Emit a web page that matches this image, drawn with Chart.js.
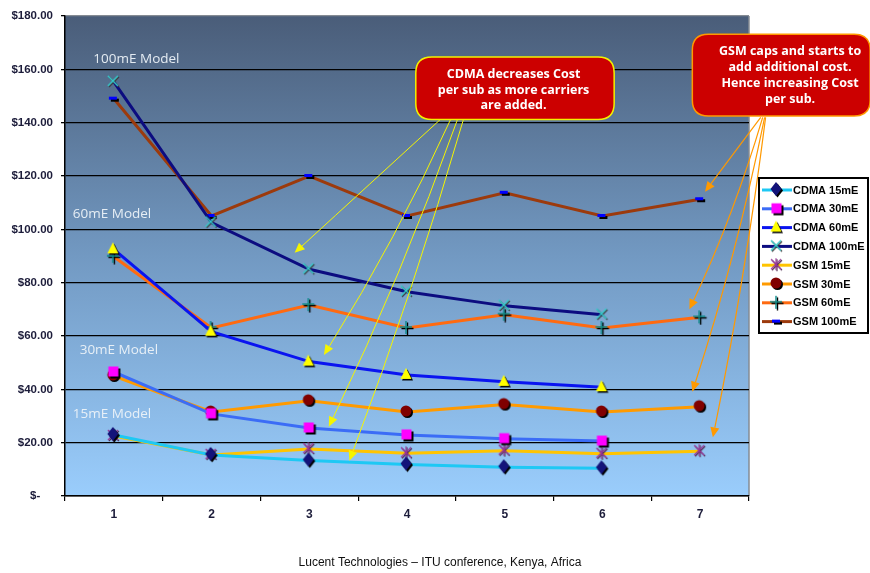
<!DOCTYPE html>
<html>
<head>
<meta charset="utf-8">
<title>Cost per subscriber: CDMA vs GSM</title>
<script src="https://cdn.jsdelivr.net/npm/chart.js@4.4.0/dist/chart.umd.min.js"></script>
<style>
  html, body { margin: 0; padding: 0; background: #fff; }
  #wrap { width: 870px; height: 573px; position: relative; }
</style>
</head>
<body>
<div id="wrap"><canvas id="chart" width="870" height="573"></canvas></div>
<script>
// Number of carriers added
const categories = ['1', '2', '3', '4', '5', '6', '7'];

// Cost per subscriber (USD), CDMA models (no 7th carrier)
const cdma15  = [22.9, 15.4, 13.3, 11.8, 10.8, 10.4, null];
const cdma30  = [46.5, 30.8, 25.5, 22.9, 21.5, 20.6, null];
const cdma60  = [92.5, 61.6, 50.4, 45.4, 42.8, 40.8, null];
const cdma100 = [155.3, 102.5, 85.0, 76.6, 71.3, 68.0, null];

// Cost per subscriber (USD), GSM models
const gsm15  = [22.5, 15.4, 17.6, 16.0, 17.0, 15.8, 16.8];
const gsm30  = [45.0, 31.5, 35.7, 31.5, 34.3, 31.5, 33.5];
const gsm60  = [89.7, 63.0, 71.6, 63.0, 68.0, 63.0, 67.0];
const gsm100 = [149.0, 105.0, 120.0, 105.0, 113.7, 105.0, 111.3];

// Value axis
const yMin = 0, yMax = 180, yStep = 20;

const seriesNames = ['CDMA 15mE', 'CDMA 30mE', 'CDMA 60mE', 'CDMA 100mE',
                     'GSM 15mE', 'GSM 30mE', 'GSM 60mE', 'GSM 100mE'];

const caption = 'Lucent Technologies \u2013 ITU conference, Kenya, Africa';

const AXIS_FONT = "Arial, 'Liberation Sans', sans-serif";
const LABEL_FONT = "'Open Sans', 'DejaVu Sans', sans-serif";

// ---------- marker glyphs (drawn with a small drop shadow) ----------
function glyph(w, h, draw) {
  const c = document.createElement('canvas');
  c.width = w; c.height = h;
  const g = c.getContext('2d');
  draw(g, w / 2, h / 2);
  return c;
}
function withShadow(g, dx, dy, shadowColor, fn, color) {
  g.save(); g.translate(dx, dy); fn(shadowColor); g.restore();
  fn(color);
}

const mkDiamond = glyph(18, 20, (g, cx, cy) => {
  const shape = col => { g.fillStyle = col; g.beginPath();
    g.moveTo(cx - 1, cy - 8); g.lineTo(cx + 4.5, cy - 1); g.lineTo(cx - 1, cy + 6); g.lineTo(cx - 6.5, cy - 1);
    g.closePath(); g.fill(); };
  withShadow(g, 1.5, 1.5, '#000', shape, '#13137a');
});
const mkSquare = glyph(16, 16, (g, cx, cy) => {
  const shape = col => { g.fillStyle = col; g.fillRect(cx - 5.5, cy - 5.5, 10, 10); };
  withShadow(g, 2, 2, '#000', shape, '#ff00ff');
});
const mkTriangle = glyph(16, 16, (g, cx, cy) => {
  const shape = col => { g.fillStyle = col; g.beginPath();
    g.moveTo(cx - 1, cy - 7); g.lineTo(cx + 4.5, cy + 4); g.lineTo(cx - 6.5, cy + 4);
    g.closePath(); g.fill(); };
  withShadow(g, 1.5, 1.5, '#000', shape, '#ffff00');
});
const mkCross = glyph(16, 16, (g, cx, cy) => {
  const shape = col => { g.strokeStyle = col; g.lineWidth = 1.4; g.beginPath();
    g.moveTo(cx - 6, cy - 6); g.lineTo(cx + 4, cy + 4);
    g.moveTo(cx + 4, cy - 6); g.lineTo(cx - 6, cy + 4); g.stroke(); };
  withShadow(g, 1, 1, '#3a3a3a', shape, '#33cccc');
});
const mkStar = glyph(16, 16, (g, cx, cy) => {
  const shape = col => { g.strokeStyle = col; g.lineWidth = 1.1; g.beginPath();
    g.moveTo(cx - 6, cy - 6); g.lineTo(cx + 4, cy + 4);
    g.moveTo(cx + 4, cy - 6); g.lineTo(cx - 6, cy + 4);
    g.moveTo(cx - 1, cy - 7); g.lineTo(cx - 1, cy + 5); g.stroke(); };
  withShadow(g, 1, 1, '#4a2a4a', shape, '#993399');
});
const mkCircle = glyph(16, 16, (g, cx, cy) => {
  const shape = col => { g.fillStyle = col; g.beginPath(); g.arc(cx - 1, cy - 1, 5.5, 0, Math.PI * 2); g.fill(); };
  withShadow(g, 1.5, 1.5, '#000', shape, '#800000');
});
const mkPlus = glyph(16, 16, (g, cx, cy) => {
  const shape = col => { g.strokeStyle = col; g.lineWidth = 1.4; g.beginPath();
    g.moveTo(cx - 7, cy - 1); g.lineTo(cx + 5, cy - 1);
    g.moveTo(cx - 1, cy - 7); g.lineTo(cx - 1, cy + 6); g.stroke(); };
  withShadow(g, 1.5, 1.5, '#000', shape, '#0b8a8a');
});
const mkDash = glyph(16, 10, (g, cx, cy) => {
  const shape = col => { g.fillStyle = col; g.fillRect(cx - 5, cy - 2, 8, 3); };
  withShadow(g, 2, 2, '#000', shape, '#0000ff');
});

function series(label, data, color, marker) {
  return {
    label, data,
    borderColor: color, backgroundColor: color,
    borderWidth: 3, tension: 0, fill: false,
    pointStyle: marker, pointRadius: 5, pointHoverRadius: 5
  };
}

const datasets = [
  series(seriesNames[0], cdma15,  '#1ec8f4', mkDiamond),
  series(seriesNames[1], cdma30,  '#3b6cf6', mkSquare),
  series(seriesNames[2], cdma60,  '#0a14f0', mkTriangle),
  series(seriesNames[3], cdma100, '#0c0c80', mkCross),
  series(seriesNames[4], gsm15,   '#ffc400', mkStar),
  series(seriesNames[5], gsm30,   '#ff9a00', mkCircle),
  series(seriesNames[6], gsm60,   '#ff6a10', mkPlus),
  series(seriesNames[7], gsm100,  '#9c3a0c', mkDash)
];

// ---------- annotation layout (category index / dollar value space) ----------
const modelLabels = [
  { text: '100mE Model', i: -0.21, v: 163.9 },
  { text: '60mE Model',  i: -0.42, v: 105.6 },
  { text: '30mE Model',  i: -0.35, v: 54.7 },
  { text: '15mE Model',  i: -0.42, v: 30.7 }
];

const callouts = [
  { lines: ['CDMA decreases Cost', 'per sub as more carriers', 'are added.'],
    i0: 3.09, i1: 5.12, v0: 164.6, v1: 141.2, textI: 4.09, lineGap: 15.5, shiftY: 2,
    border: '#f2f200',
    arrows: { color: '#f5f500', width: 1,
      list: [ { from: [3.35, 141.5], to: [1.85, 91.2], bend: 0 },
              { from: [3.45, 141.5], to: [2.15, 52.9], bend: -9 },
              { from: [3.52, 141.5], to: [2.20, 26.0], bend: -9 },
              { from: [3.58, 141.5], to: [2.41, 13.2], bend: -7 } ] } },
  { lines: ['GSM caps and starts to', 'add additional cost.', 'Hence increasing Cost', 'per sub.'],
    i0: 5.92, i1: 7.74, v0: 173.2, v1: 142.5, textI: 6.92, lineGap: 16, shiftY: 0,
    border: '#ff9900',
    arrows: { color: '#ff9900', width: 1.2,
      list: [ { from: [6.62, 142.0], to: [6.05, 114.1], bend: 0 },
              { from: [6.64, 142.0], to: [5.89, 70.0], bend: -8 },
              { from: [6.66, 142.0], to: [5.92, 39.1], bend: -8 },
              { from: [6.67, 142.0], to: [6.13, 22.0], bend: -6 } ] } }
];

function pt(chart, i, v) {
  return [chart.scales.x.getPixelForValue(i), chart.scales.y.getPixelForValue(v)];
}

function roundedRect(ctx, x, y, w, h, r) {
  ctx.beginPath();
  ctx.moveTo(x + r, y);
  ctx.lineTo(x + w - r, y); ctx.quadraticCurveTo(x + w, y, x + w, y + r);
  ctx.lineTo(x + w, y + h - r); ctx.quadraticCurveTo(x + w, y + h, x + w - r, y + h);
  ctx.lineTo(x + r, y + h); ctx.quadraticCurveTo(x, y + h, x, y + h - r);
  ctx.lineTo(x, y + r); ctx.quadraticCurveTo(x, y, x + r, y);
  ctx.closePath();
}

function drawArrow(ctx, p0, p1, bend, color, width) {
  const [x0, y0] = p0, [x1, y1] = p1;
  const dx = x1 - x0, dy = y1 - y0, len = Math.hypot(dx, dy);
  const nx = -dy / len, ny = dx / len;
  const cx = (x0 + x1) / 2 + nx * bend, cy = (y0 + y1) / 2 + ny * bend;
  const ex = x1 - cx, ey = y1 - cy, el = Math.hypot(ex, ey);
  const ux = ex / el, uy = ey / el;
  const head = 10, half = 4.5;
  const bx = x1 - ux * head, by = y1 - uy * head;
  ctx.save();
  ctx.strokeStyle = color; ctx.fillStyle = color; ctx.lineWidth = width;
  ctx.beginPath(); ctx.moveTo(x0, y0); ctx.quadraticCurveTo(cx, cy, bx, by); ctx.stroke();
  ctx.beginPath(); ctx.moveTo(x1, y1);
  ctx.lineTo(bx - uy * half, by + ux * half);
  ctx.lineTo(bx + uy * half, by - ux * half);
  ctx.closePath(); ctx.fill();
  ctx.restore();
}

// Plot background: vertical gradient plus grey frame on the right
const plotBackground = {
  id: 'plotBackground',
  beforeDraw(chart) {
    const { ctx, chartArea: a } = chart;
    ctx.save();
    ctx.fillStyle = '#ffffff';
    ctx.fillRect(0, 0, chart.width, chart.height);
    const grad = ctx.createLinearGradient(0, a.top, 0, a.bottom);
    grad.addColorStop(0, '#4a5d79');
    grad.addColorStop(0.5, '#7299c2');
    grad.addColorStop(1, '#9acdfc');
    ctx.fillStyle = grad;
    ctx.fillRect(a.left, a.top, a.right - a.left, a.bottom - a.top);
    ctx.strokeStyle = '#858b93'; ctx.lineWidth = 1.5;
    ctx.beginPath(); ctx.moveTo(a.right, a.top); ctx.lineTo(a.right, a.bottom); ctx.stroke();
    ctx.restore();
  }
};

// Model labels, callouts, arrows, legend and footer
const overlays = {
  id: 'overlays',
  beforeDatasetsDraw(chart) {
    const { ctx } = chart;
    ctx.save();
    ctx.font = "13.5px " + LABEL_FONT;
    ctx.fillStyle = 'rgba(236,242,248,0.95)';
    ctx.textAlign = 'left'; ctx.textBaseline = 'middle';
    modelLabels.forEach(m => {
      const [x, y] = pt(chart, m.i, m.v);
      ctx.fillText(m.text, x, y);
    });
    ctx.restore();
  },
  afterDatasetsDraw(chart) {
    const { ctx } = chart;
    callouts.forEach(c => {
      c.arrows.list.forEach(a => {
        drawArrow(ctx, pt(chart, a.from[0], a.from[1]), pt(chart, a.to[0], a.to[1]),
                  a.bend, c.arrows.color, c.arrows.width);
      });
    });
    callouts.forEach(c => {
      const [x0, y0] = pt(chart, c.i0, c.v0);
      const [x1, y1] = pt(chart, c.i1, c.v1);
      ctx.save();
      roundedRect(ctx, x0, y0, x1 - x0, y1 - y0, 16);
      ctx.fillStyle = '#cc0000'; ctx.fill();
      ctx.strokeStyle = c.border; ctx.lineWidth = 1.5; ctx.stroke();
      ctx.fillStyle = '#ffffff';
      ctx.font = "bold 12.5px " + LABEL_FONT;
      ctx.textAlign = 'center'; ctx.textBaseline = 'middle';
      const tx = chart.scales.x.getPixelForValue(c.textI);
      const cy = (y0 + y1) / 2 + c.shiftY;
      const n = c.lines.length;
      c.lines.forEach((ln, k) => ctx.fillText(ln, tx, cy + (k - (n - 1) / 2) * c.lineGap));
      ctx.restore();
    });
  },
  afterDraw(chart) {
    const { ctx, chartArea: a } = chart;
    // legend box
    const lx = a.right + 10, ly = 178, lw = 109, lh = 155, row = 18.8;
    ctx.save();
    ctx.fillStyle = '#fff';
    ctx.fillRect(lx, ly, lw, lh);
    ctx.strokeStyle = '#000'; ctx.lineWidth = 2;
    ctx.strokeRect(lx, ly, lw, lh);
    ctx.font = "bold 11px " + AXIS_FONT;
    ctx.textAlign = 'left'; ctx.textBaseline = 'middle';
    chart.data.datasets.forEach((ds, k) => {
      const y = ly + 12 + k * row;
      ctx.strokeStyle = ds.borderColor; ctx.lineWidth = 3;
      ctx.beginPath(); ctx.moveTo(lx + 3, y); ctx.lineTo(lx + 33, y); ctx.stroke();
      const m = ds.pointStyle;
      ctx.drawImage(m, lx + 18 - m.width / 2, y - m.height / 2);
      ctx.fillStyle = '#000';
      ctx.fillText(ds.label, lx + 34, y + 0.5);
    });
    // footer
    ctx.font = "12px " + AXIS_FONT;
    ctx.fillStyle = '#111';
    ctx.textAlign = 'center';
    ctx.fillText(caption, 440, 563);
    ctx.restore();
  }
};

new Chart(document.getElementById('chart'), {
  type: 'line',
  data: { labels: categories, datasets },
  plugins: [plotBackground, overlays],
  options: {
    responsive: false,
    animation: false,
    devicePixelRatio: 1,
    layout: { padding: { top: 16, right: 121, left: 0, bottom: 0 } },
    plugins: { legend: { display: false }, tooltip: { enabled: false }, title: { display: false } },
    scales: {
      x: {
        offset: true,
        grid: { offset: true, drawOnChartArea: false, drawTicks: true, tickLength: 5,
                color: '#000', lineWidth: 1.2 },
        border: { display: true, color: '#000', width: 1.5 },
        ticks: { color: '#1c1c3a', padding: 6, maxRotation: 0,
                 font: { family: AXIS_FONT, size: 12, weight: 'bold' } },
        afterFit(s) { s.height = 77; }
      },
      y: {
        min: yMin, max: yMax,
        grid: {
          color: c => (c.tick && c.tick.value === yMax) ? '#858b93' : '#000',
          lineWidth: 1.3, tickLength: 4, tickColor: '#000'
        },
        border: { display: true, color: '#000', width: 1.5 },
        ticks: {
          stepSize: yStep, padding: 8, color: '#1c1c3a',
          font: { family: AXIS_FONT, size: 11.5, weight: 'bold' },
          callback: v => v === 0 ? '$-    ' : '$' + v.toFixed(2)
        },
        afterFit(s) { s.width = 65; }
      }
    }
  }
});
</script>
</body>
</html>
